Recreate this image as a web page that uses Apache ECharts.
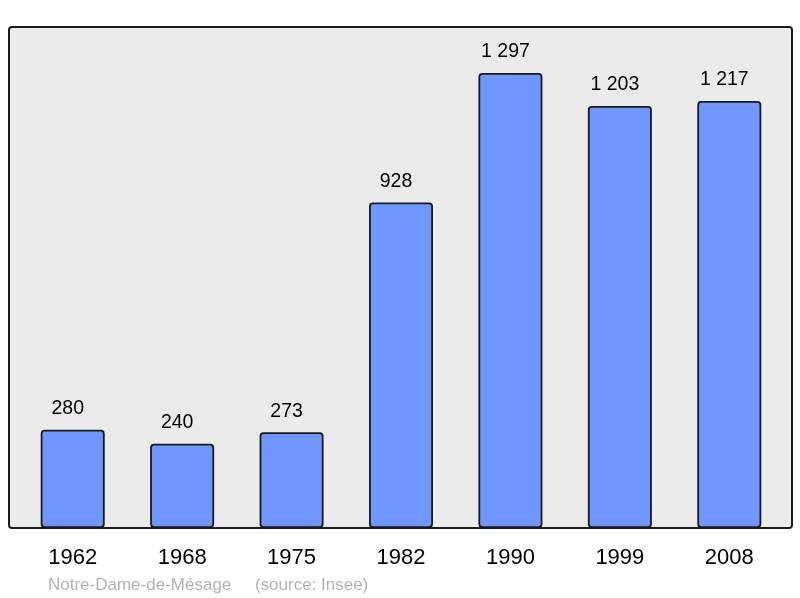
<!DOCTYPE html>
<html><head><meta charset="utf-8">
<script src="https://cdn.jsdelivr.net/npm/echarts@6/dist/echarts.min.js"></script>
<style>html,body{margin:0;padding:0;background:#fff}#c{width:800px;height:598px}</style>
</head><body><div id="c"></div>
<script>
const years = ['1962','1968','1975','1982','1990','1999','2008'];
const population = [280, 240, 273, 928, 1297, 1203, 1217];
const footer = 'Notre-Dame-de-Mésage     (source: Insee)';

const chart = echarts.init(document.getElementById('c'), null, {renderer:'canvas'});
chart.setOption({
  animation: false,
  backgroundColor: '#ffffff',
  graphic: [
    {type:'rect', z:0, shape:{x:9, y:27, width:783, height:501, r:3},
     style:{fill:'#ebebeb', stroke:'#1a1a1a', lineWidth:2}},
    {type:'text', left:48, top:577, style:{text:footer, fill:'#b3b3b3', font:'17px "Liberation Sans", Arial, sans-serif'}}
  ],
  grid: {left:18, right:16, top:27, bottom:70},
  xAxis: {
    type:'category', data: years,
    axisLine:{show:false}, axisTick:{show:false},
    axisLabel:{color:'#000', fontSize:22, margin:19, fontFamily:'"Liberation Sans", Arial, sans-serif'}
  },
  yAxis: {type:'value', min:0, max:1428, show:false, splitLine:{show:false}},
  series: [{
    type:'bar', data: population, barWidth:64, z:2,
    itemStyle:{color:'#7096ff', borderColor:'#1a1a1a', borderWidth:1.8, borderRadius:3},
    label:{show:true, position:'top', distance:11, offset:[-5,0], color:'#000', fontSize:19.5,
      fontFamily:'"Liberation Sans", Arial, sans-serif',
      formatter: p => String(p.value).replace(/\B(?=(\d{3})+(?!\d))/g, ' ')}
  }]
});
</script></body></html>
